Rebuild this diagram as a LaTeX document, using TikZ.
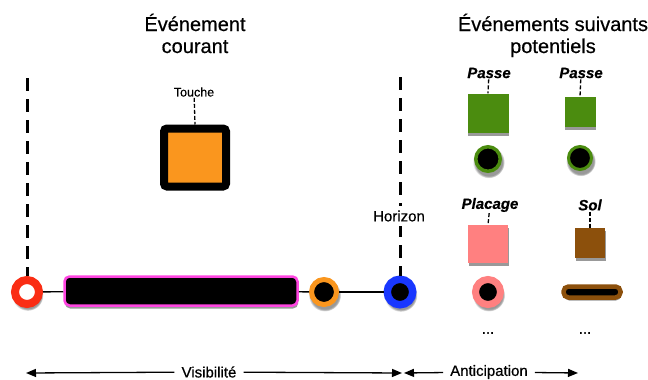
\documentclass[tikz,border=0pt]{standalone}
\usepackage{fontspec}
\setmainfont{Liberation Sans}[FakeBold=0.5]
\usetikzlibrary{arrows.meta,shadows}

\definecolor{ringred}{RGB}{250,45,20}
\definecolor{barpink}{RGB}{255,70,225}
\definecolor{ringorange}{RGB}{250,150,30}
\definecolor{ringblue}{RGB}{25,55,255}
\definecolor{leafgreen}{RGB}{75,140,15}
\definecolor{salmon}{RGB}{255,128,128}
\definecolor{soilbrown}{RGB}{140,80,12}

\begin{document}
\begin{tikzpicture}[x=1pt,y=-1pt,
  title/.style={font=\fontsize{20}{22}\selectfont, anchor=base, inner sep=0pt},
  shade/.style={drop shadow={shadow xshift=0.6pt, shadow yshift=-3pt, opacity=0.5, fill=black!80}},
  ringshade/.style={circular drop shadow={shadow xshift=0.6pt, shadow yshift=-2.5pt, shadow scale=1.3, opacity=0.5, fill=black!80}},
  ring/.style={circle, inner sep=0pt, fill=black, ringshade},
  block/.style={rectangle, inner sep=0pt, shade},
  evlabel/.style={font=\fontsize{15}{15}\selectfont\bfseries\itshape, inner sep=1pt},
  tagline/.style={line width=1.3pt, dash pattern=on 4pt off 2pt},
  bigdash/.style={line width=3pt, dash pattern=on 13pt off 8pt},
  link/.style={line width=1.3pt},
  axis/.style={line width=1.3pt, -{Triangle[length=10pt,width=8pt]}},
  axislabel/.style={font=\fontsize{15}{15}\selectfont, fill=white, inner xsep=7pt, inner ysep=3pt},
  dots/.style={font=\fontsize{15}{15}\selectfont, inner sep=0pt}
]
\useasboundingbox (0,0) rectangle (648,380);

% headings
\node[title] (curA) at (195,31) {Événement};
\node[title] (curB) at (195,53) {courant};
\node[title] (nxtA) at (553,31) {Événements suivants};
\node[title] (nxtB) at (553,53) {potentiels};

% timeline of the current event
\node[ring, draw=ringred, fill=white, line width=8pt, minimum size=24pt] (start) at (27,292) {};
\node[rectangle, rounded corners=5pt, draw=barpink, line width=2.5pt, fill=black, inner sep=0pt,
      minimum width=233pt, minimum height=29pt, shade] (bar) at (181,291) {};
\node[ring, draw=ringorange, line width=5pt, minimum size=25pt] (mid) at (324,292) {};
\node[ring, draw=ringblue, line width=7.5pt, minimum size=25.5pt] (hz) at (400,292) {};
\draw[link] (start) -- (bar);
\draw[link] (bar) -- (mid);
\draw[link] (mid) -- (hz);

% vertical markers
\coordinate (startTop) at (27,78);
\draw[bigdash] (startTop) -- (start.north);
\coordinate (hzTop) at (400,77);
\draw[bigdash] (hzTop) -- (hz.north);
\node[font=\fontsize{15}{15}\selectfont, fill=white, inner sep=4pt] (hzlabel) at (399,216) {Horizon};

% current event: key press
\node[block, draw=black, line width=8pt, fill=ringorange, rounded corners=3pt,
      minimum width=62pt, minimum height=58pt] (touche) at (195,157.5) {};
\node[font=\fontsize{12.5}{12.5}\selectfont, inner sep=1pt] (toucheL) at (194,92) {Touche};
\draw[tagline] (toucheL) -- (touche.north);

% potential next events, first column
\node[evlabel] (passeA) at (489,73) {Passe};
\node[block, fill=leafgreen, minimum width=41pt, minimum height=39pt] (sqA) at (488,113) {};
\draw[tagline] (passeA) -- (sqA.north);
\node[ring, draw=leafgreen, line width=3.5pt, minimum size=24.5pt] (ciA) at (488,159) {};
\node[evlabel] (placage) at (490,205) {Placage};
\node[block, fill=salmon, minimum width=40pt, minimum height=38pt] (sqC) at (488,244) {};
\draw[tagline] (placage) -- (sqC.north);
\node[ring, draw=salmon, line width=7pt, minimum size=25pt] (ciC) at (488,292) {};
\node[dots] (dotsA) at (488,333) {...};

% potential next events, second column
\node[evlabel] (passeB) at (581,73) {Passe};
\node[block, fill=leafgreen, minimum width=31pt, minimum height=30pt] (sqB) at (580,112) {};
\draw[tagline] (passeB) -- (sqB.north);
\node[ring, draw=leafgreen, line width=3pt, minimum size=23pt] (ciB) at (580,158) {};
\node[evlabel] (sol) at (590,205) {Sol};
\node[block, fill=soilbrown, minimum width=30pt, minimum height=30pt] (sqD) at (590,243) {};
\draw[tagline] (sol) -- (sqD.north);
\node[rectangle, draw=soilbrown, line width=4.5pt, fill=black, rounded corners=5pt, inner sep=0pt,
      minimum width=57pt, minimum height=11pt, shade] (solbar) at (592,292) {};
\node[dots] (dotsB) at (585,333) {...};

% horizon axes
\coordinate (visL) at (26,373);
\coordinate (visR) at (402,373);
\node[axislabel] (vis) at (209,372) {Visibilité};
\draw[axis] (vis) -- (visL);
\draw[axis] (vis) -- (visR);
\coordinate (antL) at (404,373);
\coordinate (antR) at (578,373);
\node[axislabel] (ant) at (489,372) {Anticipation};
\draw[axis] (ant) -- (antL);
\draw[axis] (ant) -- (antR);
\end{tikzpicture}
\end{document}
